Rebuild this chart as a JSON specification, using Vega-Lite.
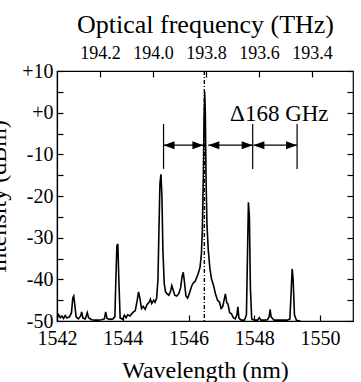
{
  "$schema": "https://vega.github.io/schema/vega-lite/v6.json",
  "width": 296,
  "height": 250,
  "autosize": "none",
  "padding": {"left": 57, "top": 71, "right": 8, "bottom": 61},
  "background": "white",
  "config": {
    "font": "Liberation Serif",
    "view": {"stroke": "black", "strokeWidth": 1.2},
    "axis": {
      "labelFont": "Liberation Serif", "titleFont": "Liberation Serif",
      "labelColor": "black", "titleColor": "black", "domainColor": "black", "tickColor": "black",
      "grid": false, "titleFontWeight": "normal", "labelFontSize": 20, "titleFontSize": 24,
      "tickSize": -6, "domainWidth": 1.2, "tickWidth": 1.2, "labelFlush": false, "labelOverlap": false
    }
  },
  "datasets": {
    "spectrum": [
      {"lam": 1542.00, "db": -49.5}, {"lam": 1542.05, "db": -48.5}, {"lam": 1542.10, "db": -49.2},
      {"lam": 1542.15, "db": -48.8}, {"lam": 1542.20, "db": -49.4}, {"lam": 1542.25, "db": -48.7},
      {"lam": 1542.30, "db": -49.3}, {"lam": 1542.38, "db": -49.0}, {"lam": 1542.44, "db": -48.0},
      {"lam": 1542.48, "db": -44.5}, {"lam": 1542.51, "db": -44.0}, {"lam": 1542.54, "db": -46.0},
      {"lam": 1542.58, "db": -49.0}, {"lam": 1542.65, "db": -49.5}, {"lam": 1542.72, "db": -48.8},
      {"lam": 1542.75, "db": -47.8}, {"lam": 1542.79, "db": -49.3}, {"lam": 1542.86, "db": -49.5},
      {"lam": 1542.92, "db": -48.0}, {"lam": 1542.96, "db": -49.2}, {"lam": 1543.05, "db": -49.7},
      {"lam": 1543.15, "db": -49.8}, {"lam": 1543.25, "db": -49.8}, {"lam": 1543.35, "db": -49.7},
      {"lam": 1543.44, "db": -49.5}, {"lam": 1543.48, "db": -47.8}, {"lam": 1543.52, "db": -49.4},
      {"lam": 1543.60, "db": -49.6}, {"lam": 1543.70, "db": -49.5}, {"lam": 1543.76, "db": -49.0},
      {"lam": 1543.79, "db": -40.0}, {"lam": 1543.82, "db": -32.0}, {"lam": 1543.85, "db": -31.5},
      {"lam": 1543.88, "db": -40.0}, {"lam": 1543.92, "db": -49.3}, {"lam": 1544.00, "db": -49.6},
      {"lam": 1544.05, "db": -48.6}, {"lam": 1544.10, "db": -49.2}, {"lam": 1544.15, "db": -48.5},
      {"lam": 1544.22, "db": -48.8}, {"lam": 1544.30, "db": -48.0}, {"lam": 1544.38, "db": -47.5},
      {"lam": 1544.44, "db": -45.0}, {"lam": 1544.48, "db": -43.0}, {"lam": 1544.52, "db": -44.5},
      {"lam": 1544.57, "db": -47.0}, {"lam": 1544.62, "db": -46.5}, {"lam": 1544.68, "db": -47.2},
      {"lam": 1544.74, "db": -46.0}, {"lam": 1544.80, "db": -45.5}, {"lam": 1544.84, "db": -44.8},
      {"lam": 1544.88, "db": -45.8}, {"lam": 1544.94, "db": -45.0}, {"lam": 1544.98, "db": -45.5},
      {"lam": 1545.03, "db": -44.5}, {"lam": 1545.07, "db": -40.0}, {"lam": 1545.10, "db": -28.0},
      {"lam": 1545.13, "db": -17.0}, {"lam": 1545.16, "db": -14.8}, {"lam": 1545.19, "db": -20.0},
      {"lam": 1545.22, "db": -33.0}, {"lam": 1545.26, "db": -41.0}, {"lam": 1545.30, "db": -43.0},
      {"lam": 1545.35, "db": -43.5}, {"lam": 1545.40, "db": -43.8}, {"lam": 1545.45, "db": -43.0},
      {"lam": 1545.49, "db": -41.5}, {"lam": 1545.53, "db": -42.5}, {"lam": 1545.58, "db": -43.8},
      {"lam": 1545.64, "db": -44.0}, {"lam": 1545.70, "db": -43.5}, {"lam": 1545.76, "db": -42.0},
      {"lam": 1545.80, "db": -39.5}, {"lam": 1545.84, "db": -38.3}, {"lam": 1545.88, "db": -41.0},
      {"lam": 1545.92, "db": -44.0}, {"lam": 1545.97, "db": -44.5}, {"lam": 1546.02, "db": -43.5},
      {"lam": 1546.06, "db": -42.5}, {"lam": 1546.10, "db": -41.5}, {"lam": 1546.15, "db": -40.8},
      {"lam": 1546.20, "db": -40.5}, {"lam": 1546.25, "db": -39.5}, {"lam": 1546.30, "db": -38.5},
      {"lam": 1546.35, "db": -37.0}, {"lam": 1546.39, "db": -34.0}, {"lam": 1546.42, "db": -28.0},
      {"lam": 1546.45, "db": -15.0}, {"lam": 1546.47, "db": -2.0}, {"lam": 1546.49, "db": 5.0},
      {"lam": 1546.51, "db": 0.0}, {"lam": 1546.53, "db": -15.0}, {"lam": 1546.56, "db": -27.0},
      {"lam": 1546.60, "db": -33.0}, {"lam": 1546.65, "db": -37.5}, {"lam": 1546.70, "db": -40.0},
      {"lam": 1546.76, "db": -41.5}, {"lam": 1546.82, "db": -43.5}, {"lam": 1546.88, "db": -45.0},
      {"lam": 1546.94, "db": -45.5}, {"lam": 1546.99, "db": -47.0}, {"lam": 1547.04, "db": -46.5},
      {"lam": 1547.08, "db": -45.0}, {"lam": 1547.12, "db": -43.5}, {"lam": 1547.16, "db": -45.5},
      {"lam": 1547.20, "db": -46.0}, {"lam": 1547.25, "db": -48.0}, {"lam": 1547.30, "db": -48.2},
      {"lam": 1547.36, "db": -49.2}, {"lam": 1547.42, "db": -49.5}, {"lam": 1547.47, "db": -48.5},
      {"lam": 1547.50, "db": -46.6}, {"lam": 1547.53, "db": -49.3}, {"lam": 1547.60, "db": -49.8},
      {"lam": 1547.70, "db": -49.8}, {"lam": 1547.76, "db": -48.5}, {"lam": 1547.79, "db": -35.0},
      {"lam": 1547.82, "db": -21.5}, {"lam": 1547.85, "db": -25.0}, {"lam": 1547.88, "db": -42.0},
      {"lam": 1547.92, "db": -49.5}, {"lam": 1548.00, "db": -49.8}, {"lam": 1548.10, "db": -49.8},
      {"lam": 1548.15, "db": -49.2}, {"lam": 1548.20, "db": -49.8}, {"lam": 1548.30, "db": -49.8},
      {"lam": 1548.40, "db": -49.7}, {"lam": 1548.45, "db": -49.0}, {"lam": 1548.48, "db": -47.2},
      {"lam": 1548.51, "db": -49.0}, {"lam": 1548.60, "db": -49.8}, {"lam": 1548.80, "db": -49.8},
      {"lam": 1549.00, "db": -49.8}, {"lam": 1549.08, "db": -49.5}, {"lam": 1549.12, "db": -43.0},
      {"lam": 1549.15, "db": -37.5}, {"lam": 1549.18, "db": -40.0}, {"lam": 1549.22, "db": -48.5},
      {"lam": 1549.28, "db": -49.8}, {"lam": 1549.40, "db": -50.0}
    ],
    "bars": [
      {"lam": 1545.24, "db": -2.7, "db2": -13.5},
      {"lam": 1547.95, "db": -2.7, "db2": -13.5},
      {"lam": 1549.30, "db": -2.7, "db2": -13.5}
    ],
    "arrows": [
      {"lam": 1545.24, "lam2": 1546.45, "db": -7.8},
      {"lam": 1546.60, "lam2": 1547.95, "db": -7.8},
      {"lam": 1547.97, "lam2": 1549.30, "db": -7.8}
    ],
    "leftheads": [
      {"lam": 1545.24, "db": -7.8}, {"lam": 1546.60, "db": -7.8}, {"lam": 1547.97, "db": -7.8}
    ],
    "rightheads": [
      {"lam": 1546.45, "db": -7.8}, {"lam": 1547.95, "db": -7.8}, {"lam": 1549.30, "db": -7.8}
    ],
    "freq": [
      {"f": 194.2}, {"f": 194.0}, {"f": 193.8}, {"f": 193.6}, {"f": 193.4}
    ]
  },
  "layer": [
    {
      "resolve": {"axis": {"y": "independent"}},
      "layer": [
        {
          "data": {"name": "spectrum"},
          "mark": {"type": "line", "color": "black", "strokeWidth": 1.6, "clip": true},
          "encoding": {
            "x": {"field": "lam", "type": "quantitative", "title": "Wavelength (nm)",
              "scale": {"domain": [1542, 1551], "nice": false, "zero": false},
              "axis": {"orient": "bottom", "values": [1542, 1543, 1544, 1545, 1546, 1547, 1548, 1549, 1550, 1551],
                "labelExpr": "datum.value % 2 == 0 ? format(datum.value, 'd') : ''",
                "labelPadding": 13, "titleY": 56, "titleBaseline": "alphabetic"}},
            "y": {"field": "db", "type": "quantitative", "title": "Intensity (dBm)",
              "scale": {"domain": [-50, 10], "nice": false, "zero": false},
              "axis": {"orient": "left", "values": [-50, -45, -40, -35, -30, -25, -20, -15, -10, -5, 0, 5, 10],
                "labelExpr": "datum.value % 10 != 0 ? '' : (datum.value >= 0 ? '+' + datum.value : '' + datum.value)",
                "labelPadding": 10, "titleX": -52, "titleY": 125, "titleBaseline": "alphabetic", "titleAngle": 270}}
          }
        },
        {
          "data": {"name": "bars"},
          "mark": {"type": "point", "opacity": 0},
          "encoding": {
            "x": {"field": "lam", "type": "quantitative", "title": "Wavelength (nm)"},
            "y": {"field": "db", "type": "quantitative",
              "axis": {"orient": "right", "values": [-50, -45, -40, -35, -30, -25, -20, -15, -10, -5, 0, 5, 10],
                "labels": false, "title": null, "domain": false}}
          }
        },
        {
          "data": {"values": [{"lam": 1546.48}]},
          "mark": {"type": "rule", "color": "black", "strokeWidth": 1.4, "strokeDash": [4, 2, 1, 2]},
          "encoding": {
            "x": {"field": "lam", "type": "quantitative", "title": "Wavelength (nm)"}
          }
        },
        {
          "data": {"name": "bars"},
          "mark": {"type": "rule", "color": "black", "strokeWidth": 1.2},
          "encoding": {
            "x": {"field": "lam", "type": "quantitative", "title": "Wavelength (nm)"},
            "y": {"field": "db", "type": "quantitative", "axis": null},
            "y2": {"field": "db2"}
          }
        },
        {
          "data": {"name": "arrows"},
          "mark": {"type": "rule", "color": "black", "strokeWidth": 1.4},
          "encoding": {
            "x": {"field": "lam", "type": "quantitative", "title": "Wavelength (nm)"},
            "x2": {"field": "lam2"},
            "y": {"field": "db", "type": "quantitative", "axis": null}
          }
        },
        {
          "data": {"name": "leftheads"},
          "mark": {"type": "point", "filled": true, "color": "black", "opacity": 1, "size": 484,
            "shape": "M0,0L1,-0.36L1,0.36Z"},
          "encoding": {
            "x": {"field": "lam", "type": "quantitative", "title": "Wavelength (nm)"},
            "y": {"field": "db", "type": "quantitative", "axis": null}
          }
        },
        {
          "data": {"name": "rightheads"},
          "mark": {"type": "point", "filled": true, "color": "black", "opacity": 1, "size": 484,
            "shape": "M0,0L-1,-0.36L-1,0.36Z"},
          "encoding": {
            "x": {"field": "lam", "type": "quantitative", "title": "Wavelength (nm)"},
            "y": {"field": "db", "type": "quantitative", "axis": null}
          }
        },
        {
          "data": {"values": [{"lam": 1548.76, "db": -2.1, "label": "Δ168 GHz"}]},
          "mark": {"type": "text", "font": "Liberation Serif", "fontSize": 23, "color": "black",
            "align": "center", "baseline": "alphabetic"},
          "encoding": {
            "x": {"field": "lam", "type": "quantitative", "title": "Wavelength (nm)"},
            "y": {"field": "db", "type": "quantitative", "axis": null},
            "text": {"field": "label"}
          }
        }
      ]
    },
    {
      "data": {"name": "freq"},
      "mark": {"type": "point", "opacity": 0},
      "encoding": {
        "x": {"field": "f", "type": "quantitative", "title": "Optical frequency (THz)",
          "scale": {"domain": [193.245, 194.362], "reverse": true, "nice": false, "zero": false},
          "axis": {"orient": "top", "values": [194.2, 194.0, 193.8, 193.6, 193.4], "format": ".1f",
            "labelPadding": 15, "labelFontSize": 18, "titleFontSize": 26, "titleY": -39, "titleBaseline": "alphabetic", "domain": false}}
      }
    }
  ],
  "resolve": {"scale": {"x": "independent"}}
}
